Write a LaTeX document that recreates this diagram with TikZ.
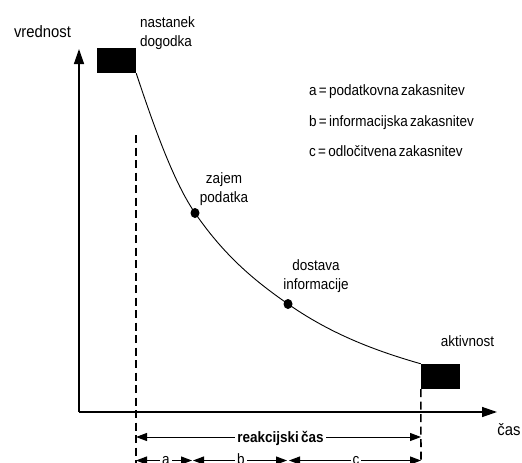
\documentclass[tikz,border=0pt]{standalone}
\usepackage{fontspec}
\setmainfont{Liberation Sans}[FakeStretch=0.9,WordSpace=0.6]
\usetikzlibrary{arrows.meta,shapes.geometric}
\begin{document}
\begin{tikzpicture}[x=1pt,y=-1pt,
  lbl/.style={inner sep=0pt,font=\fontsize{15}{19.5}\selectfont},
  axlbl/.style={inner sep=0pt,font=\fontsize{16.5}{20}\selectfont},
  block/.style={fill=black,draw=none,minimum width=39pt,minimum height=25pt,inner sep=0pt},
  event/.style={ellipse,fill=black,minimum width=9pt,minimum height=10pt,inner sep=0pt},
  axis/.style={line width=1.4pt,-{Triangle[length=15pt,width=10pt]}},
  guide/.style={line width=1.6pt,dash pattern=on 8pt off 4.5pt},
  span/.style={line width=1pt,{Triangle[length=11pt,width=8pt]}-{Triangle[length=11pt,width=8pt]}},
  spanlbl/.style={lbl,fill=white,inner xsep=2pt,inner ysep=1pt}]
\useasboundingbox (0,0) rectangle (522,463);
\clip (0,0) rectangle (522,463);

% axes
\coordinate (O) at (79,412);
\coordinate (xend) at (497,412);
\coordinate (yend) at (79,49);
\draw[axis] (O) -- (xend);
\draw[axis] (O) -- (yend);
\node[axlbl,anchor=base] (vlab) at (42.5,37.5) {vrednost};
\node[axlbl,anchor=base] (tlab) at (509,435) {čas};

% event and activity blocks, intermediate events
\node[block] (ev) at (116.5,60.5) {};
\node[block] (act) at (440.5,376.5) {};
\node[event] (d1) at (195,213) {};
\node[event] (d2) at (288,304) {};

% decay curve through the events
\draw[line width=0.9pt] (ev.south east)
  .. controls (156,133) and (175,184) .. (d1.center)
  .. controls (226,258) and (257,282.3) .. (d2.center)
  .. controls (332,334.8) and (377,351.2) .. (act.north west);

% labels
\node[lbl,align=left,anchor=west] (evlab) at (140,33.3) {nastanek\\dogodka};
\node[lbl,align=center] (d1lab) at (224,189.3) {zajem\\podatka};
\node[lbl,align=center] (d2lab) at (316,276) {dostava\\informacije};
\node[lbl,anchor=base] (actlab) at (467.5,346) {aktivnost};

% legend
\node[lbl,anchor=base west] (lega) at (309,95) {a = podatkovna zakasnitev};
\node[lbl,anchor=base west] (legb) at (309,126) {b = informacijska zakasnitev};
\node[lbl,anchor=base west] (legc) at (309,156) {c = odločitvena zakasnitev};

% guide lines
\coordinate (gl) at (136,135);
\coordinate (glb) at (136,463);
\coordinate (grb) at (421,463);
\draw[guide] (gl) -- (glb);
\draw[guide] (act.south west) -- (grb);

% reaction time spans
\coordinate (r1) at (136,437);
\coordinate (r2) at (421,437);
\draw[span] (r1) -- (r2);
\node[spanlbl,font=\fontsize{15}{18}\selectfont\bfseries,anchor=base] (rlab) at (280.5,442) {reakcijski čas};

\coordinate (s0) at (136,460.5);
\coordinate (s1) at (192,460.5);
\coordinate (s2) at (193,460.5);
\coordinate (s3) at (287,460.5);
\coordinate (s4) at (289,460.5);
\coordinate (s5) at (421,460.5);
\draw[span] (s0) -- (s1);
\draw[span] (s2) -- (s3);
\draw[span] (s4) -- (s5);
\node[spanlbl,anchor=base] (alab) at (166,464.5) {a};
\node[spanlbl,anchor=base] (blab) at (241,464.5) {b};
\node[spanlbl,anchor=base] (clab) at (356,464.5) {c};
\end{tikzpicture}
\end{document}
